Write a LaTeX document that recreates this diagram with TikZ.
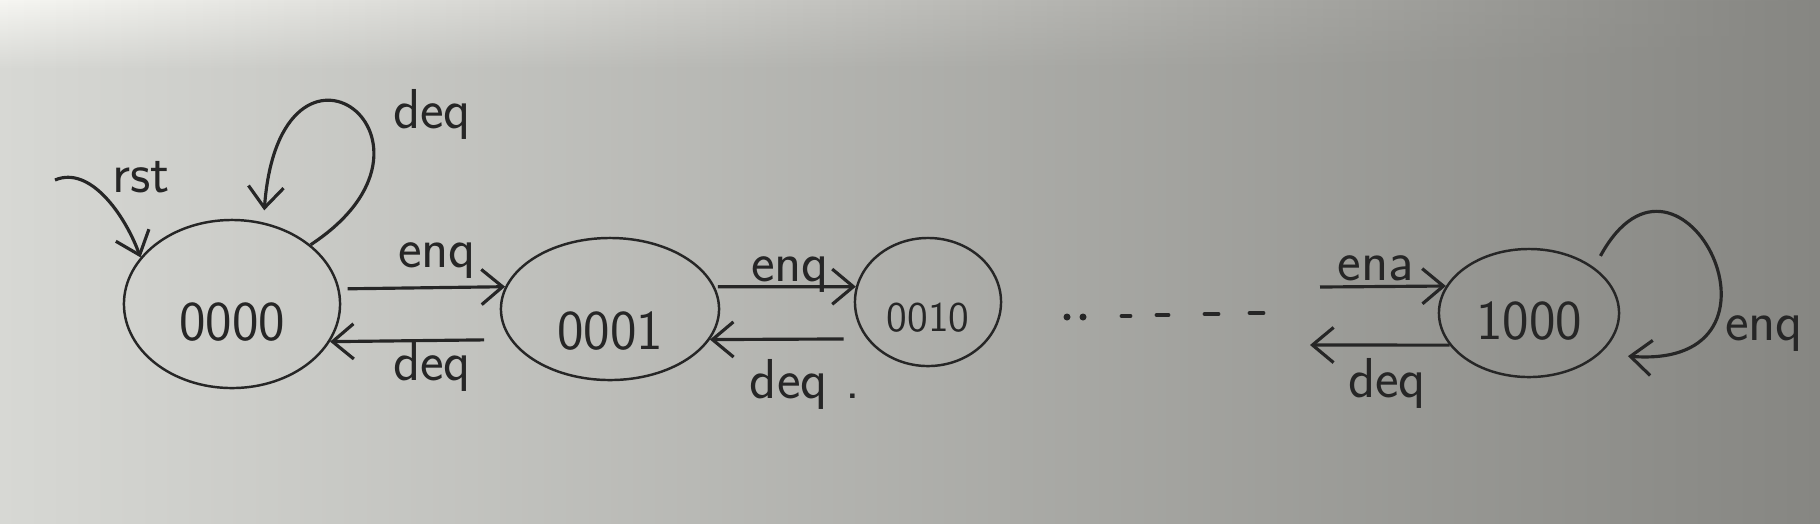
\documentclass[tikz,border=0pt]{standalone}
\usetikzlibrary{shapes.geometric,arrows.meta,fadings}
\definecolor{ink}{RGB}{38,38,38}
\definecolor{bgL}{RGB}{215,216,212}
\definecolor{bgM}{RGB}{191,193,188}
\definecolor{bgR}{RGB}{134,134,130}
\definecolor{bgTop}{RGB}{246,246,242}
\tikzfading[name=topfade, top color=transparent!0, bottom color=transparent!100]
\begin{document}
\begin{tikzpicture}[x=0.01cm, y=-0.01cm,
  state/.style={ellipse, draw=ink, line width=0.7pt, inner sep=0pt, text=ink,
    font=\sffamily\fontsize{16}{16}\selectfont, text depth=0pt},
  lbl/.style={text=ink, anchor=base, inner sep=0pt, font=\sffamily\fontsize{16}{16}\selectfont},
  conn/.style={draw=ink, line width=0.9pt, -{Straight Barb[length=6pt,width=10pt]}}]
% background
\shade[left color=bgL, middle color=bgM, right color=bgR] (0,0) rectangle (1820,523);
\shade[left color=bgTop, middle color=bgM, right color=bgR, path fading=topfade] (0,0) rectangle (1820,70);
\useasboundingbox (0,0) rectangle (1820,523);
% states
\node[state, minimum width=2.16cm, minimum height=1.68cm, text height=0.73cm] (s0) at (232,304) {0000};
\node[state, minimum width=2.18cm, minimum height=1.42cm, text height=0.81cm] (s1) at (610,309) {0001};
\node[state, minimum width=1.46cm, minimum height=1.28cm, text height=0.59cm,
  font=\sffamily\fontsize{12}{12}\selectfont] (s2) at (928,302) {0010};
\node[state, minimum width=1.80cm, minimum height=1.28cm, text height=0.53cm] (s3) at (1529,313) {1000};
% free ends
\coordinate (rstin) at (55,180);
\coordinate (enqin) at (1320,287);
\coordinate (deqout) at (1310,345);
% connectors
\draw[conn] (rstin) .. controls (90,165) and (125,215) .. (s0.153);
\draw[conn, shorten >=0.12cm] (s0.37) .. controls (470,140) and (280,0) .. (s0.69);
\draw[conn, shorten <=0.08cm] (s0.8.6) -- (s1.168.6);
\draw[conn, shorten <=0.26cm] (s1.197.6) -- (s0.339.8);
\draw[conn, shorten <=0.03cm] (s1.12) -- (s2.168.1);
\draw[conn, shorten <=0.23cm] (s2.211.8) -- (s1.343.1);
\draw[conn] (enqin) -- (s3.162.4);
\draw[conn] (s3.202.3) -- (deqout);
\draw[conn, shorten <=0.13cm, shorten >=0.28cm] (s3.35) .. controls (1680,110) and (1810,370) .. (s3.-30);
% labels
\node[lbl] (lrst) at (141,192) {rst};
\node[lbl] (ldeq0) at (432,128) {deq};
\node[lbl] (lenq01) at (437,267) {enq};
\node[lbl] (ldeq10) at (432,380) {deq};
\node[lbl] (lenq12) at (790,281) {enq};
\node[lbl] (ldeq21) at (805,398) {deq .};
\node[lbl] (lenq3) at (1376,280) {ena};
\node[lbl] (ldeq3) at (1387,397) {deq};
\node[lbl] (lenq33) at (1764,340) {enq};
% ellipsis
\fill[ink] (1067,317) circle[radius=0.035cm];
\fill[ink] (1083,317) circle[radius=0.035cm];
\draw[ink, line width=1.4pt, line cap=round] (1122,316) -- (1130,316);
\draw[ink, line width=1.4pt, line cap=round] (1157,315) -- (1168,315);
\draw[ink, line width=1.4pt, line cap=round] (1205,314) -- (1218,314);
\draw[ink, line width=1.4pt, line cap=round] (1250,313) -- (1263,313);
\end{tikzpicture}
\end{document}
